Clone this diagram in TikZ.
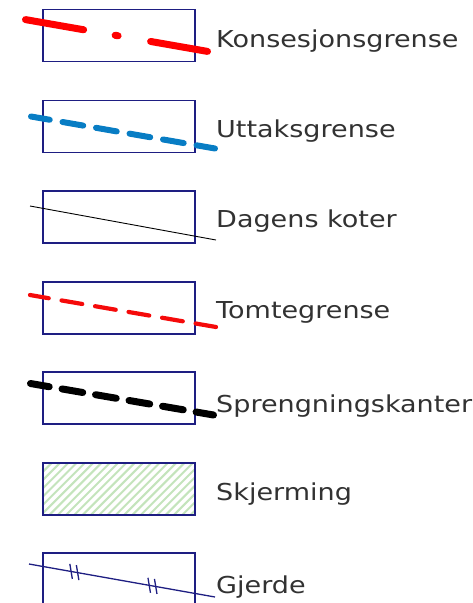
\documentclass[tikz,border=0pt]{standalone}
\usepackage{fontspec}
\usetikzlibrary{calc}
\setmainfont{DejaVu Sans}[FakeStretch=1.16]
\definecolor{navyb}{RGB}{30,30,130}
\definecolor{bluel}{RGB}{8,125,196}
\definecolor{txt}{RGB}{50,50,50}
\definecolor{hatch}{RGB}{196,228,188}
\definecolor{redl}{RGB}{245,10,10}
\begin{document}
\begin{tikzpicture}[x=1pt,y=-1pt,
  box/.style={draw=navyb,line width=1.3pt,minimum width=152pt,minimum height=52pt,inner sep=0pt,outer sep=0pt},
  lbl/.style={anchor=base west,inner sep=0pt,text=txt,font=\fontsize{23.3}{26}\selectfont},
  thickred/.style={draw=red,line width=7pt,line cap=round},
  thickblue/.style={draw=bluel,line width=6pt,line cap=round,dash pattern=on 21pt off 13pt,dash phase=2pt},
  thin/.style={draw=black,line width=0.9pt},
  reddash/.style={draw=redl,line width=4.2pt,line cap=round,dash pattern=on 21pt off 13pt,dash phase=2pt},
  blackdash/.style={draw=black,line width=7pt,line cap=round,dash pattern=on 21pt off 13pt,dash phase=2pt},
  fence/.style={draw=navyb,line width=1.3pt}]
\useasboundingbox (0,0) rectangle (473,603);
% boxes
\node[box] (b1) at (119,35.5) {};
\node[box] (b2) at (119,126.5) {};
\node[box] (b3) at (119,217) {};
\node[box] (b4) at (119,308) {};
\node[box] (b5) at (119,398) {};
\node[box,fill=white] (b6) at (119,489) {};
\node[box] (b7) at (119,579) {};
% labels
\node[lbl] (l1) at (216,47) {Konsesjonsgrense};
\node[lbl] (l2) at (216,137) {Uttaksgrense};
\node[lbl] (l3) at (216,227) {Dagens koter};
\node[lbl] (l4) at (216,318) {Tomtegrense};
\node[lbl] (l5) at (216,412) {Sprengningskanter};
\node[lbl] (l6) at (216,500) {Skjerming};
\node[lbl] (l7) at (216,593) {Gjerde};
% 1 Konsesjonsgrense
\coordinate (s1) at (25.5,19.6);
\coordinate (e1) at (207.5,51.4);
\draw[thickred,dash pattern=on 59pt off 32pt on 3pt off 33pt on 60pt] (s1) -- (e1);
% 2 Uttaksgrense
\coordinate (s2) at (31,116.5);
\coordinate (e2) at (215,148.5);
\draw[thickblue] (s2) -- (e2);
% 3 Dagens koter
\coordinate (s3) at (30,206);
\coordinate (e3) at (216,240);
\draw[thin] (s3) -- (e3);
% 4 Tomtegrense
\coordinate (s4) at (30,295);
\coordinate (e4) at (216,327);
\draw[reddash] (s4) -- (e4);
% 5 Sprengningskanter
\coordinate (s5) at (30.5,383.5);
\coordinate (e5) at (213.5,415);
\draw[blackdash] (s5) -- (e5);
% 6 Skjerming hatching
\begin{scope}
\clip (b6.south west) rectangle (b6.north east);
\foreach \i in {0,...,30}{
  \draw[hatch,line width=2pt] ([xshift=\i*8.3pt-60pt]b6.south west) -- ++(60,-60);
}
\end{scope}
\node[box] at (b6) {};
% 7 Gjerde
\coordinate (s7) at (29,564);
\coordinate (e7) at (215,597);
\draw[fence] (s7) -- (e7);
\foreach \p in {0.225,0.26,0.645,0.68}{
  \draw[fence] ($(s7)!\p!(e7)+(-1,-7.5)$) -- ++(2.5,15);
}
\end{tikzpicture}
\end{document}
